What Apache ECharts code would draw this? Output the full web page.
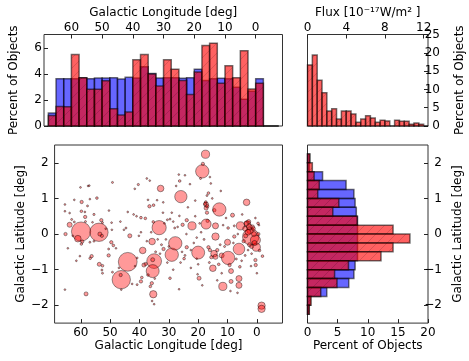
<!DOCTYPE html>
<html><head><meta charset="utf-8">
<script src="https://cdn.jsdelivr.net/npm/echarts@6/dist/echarts.min.js"></script>
<style>html,body{margin:0;padding:0;background:#fff}#c{width:469px;height:361px}</style>
</head><body><div id="c"></div>
<script>
// ---------- DATA ----------
// Longitude histogram: bins span [start-2.5, start]
const lonBinStart = [67.5,65,62.5,60,57.5,55,52.5,50,47.5,45,42.5,40,37.5,35,32.5,30,27.5,25,22.5,20,17.5,15,12.5,10,7.5,5,2.5,0,-2.5,-5];
const lonBinWidth = 2.5;
const lonRed  = [0.8,1.5,1.48,5.5,3.72,2.83,2.83,3.48,1.33,0.84,1.07,5.1,5.5,4.0,3.08,5.1,4.38,3.5,2.42,4.16,6.2,6.38,3.29,4.64,3.72,5.8,2.85,3.3,0,0];
const lonBlue = [1.0,3.65,3.65,3.65,3.72,3.65,3.7,3.7,3.72,3.62,3.75,3.7,4.57,4.05,3.7,3.72,3.72,3.68,3.72,4.38,3.5,3.65,3.68,3.65,2.98,2.07,2.67,3.65,0,0];

// Latitude histogram: bins span [top-0.25, top]
const latBinTop = [2.25,2.0,1.75,1.5,1.25,1.0,0.75,0.5,0.25,0,-0.25,-0.5,-0.75,-1.0,-1.25,-1.5,-1.75,-2.0];
const latBinWidth = 0.25;
const latRed  = [0.4,0.8,1.1,1.95,1.7,5.2,4.2,8.25,14.2,17.0,14.2,12.2,6.8,4.5,4.9,2.2,0.6,0.3];
const latBlue = [0.35,0.3,2.5,6.4,7.7,7.9,8.1,8.3,8.3,8.3,8.3,8.3,7.9,7.7,6.85,3.2,0.45,0.25];

// Flux histogram: bins span [start, start+0.5]
const fluxBinStart = [0,0.5,1,1.5,2,2.5,3,3.5,4,4.5,5,5.5,6,6.5,7,7.5,8,8.5,9,9.5,10,10.5,11,11.5,12];
const fluxBinWidth = 0.5;
const fluxPct = [16.7,19.4,12.5,9.1,4.1,4.7,1.9,4.1,4.1,3.3,1.0,1.9,2.8,2.2,1.0,1.6,1.4,0,1.6,1.3,1.3,0.5,0.8,0.5,0];

// Scatter of objects: longitude, latitude, flux
const srcLon = [65.4,62.2,59.7,56.9,54.5,57.7,65.4,63.8,59.8,58.6,55.5,63.1,62.2,63.8,58.5,58.4,56.0,65.2,59.9,61.0,59.5,59.8,56.9,55.5,64.4,60.3,56.3,56.8,58.2,65.4,60.1,57.1,
53.8,53.0,52.6,53.5,52.8,49.2,50.4,49.5,49.4,49.6,48.9,50.5,50.5,53.7,52.6,52.8,52.6,49.2,46.2,46.4,46.2,44.0,43.3,44.6,45.3,
37.5,40.4,41.6,32.8,37.1,36.6,35.2,31.9,39.5,38.0,35.3,30.5,33.3,35.7,38.9,35.0,35.5,35.3,38.5,37.9,40.8,39.2,39.5,40.8,36.3,35.8,37.1,35.7,35.0,34.8,31.8,32.5,36.0,34.5,35.5,
29.0,27.8,29.6,28.0,29.6,26.6,26.3,25.9,21.0,26.4,23.9,25.3,22.1,23.9,24.8,24.5,22.5,20.5,20.0,20.0,19.7,20.2,18.6,17.5,18.4,18.6,19.2,16.0,15.7,16.5,17.0,12.3,17.3,17.3,17.0,16.8,17.3,14.5,12.8,14.1,14.1,16.5,16.0,14.6,14.1,12.0,15.0,11.6,16.2,18.0,19.0,21.0,
9.8,10.0,8.8,9.3,8.8,6.1,6.1,6.6,5.8,6.1,3.5,8.3,9.8,7.7,5.6,3.2,2.3,2.1,0.5,0.2,0.4,0.5,-1.9,-0.9,-0.4,-1.6,-1.6,7.7,4.0,3.0,1.5,4.5,2.5,1.0,-0.5,11.0,12.5,7.0,4.0,1.8,10.5,5.0,0.5,-0.7,12.0,9.0,3.0,
42.0,41.0,39.5,37.5,33.0,31.0,30.0,27.0,26.0,24.0,31.5,29.0,34.0,48.0,42.5,28.5,22.5,23.5,27.5,22.8,
3.5,2.8,1.2,0.8,1.8,3.8,2.6,17.6,16.9,17.4,13.5,15.5,13.0,
44.0,46.5,47.0,51.5,61.5,62.7,57.5,40.2,41.5,33.8,28.5,25.5,21.5,19.5,15.2,11.5,8.0,6.5,5.2,2.0,0.0,13.5,24.5,36.5,32.0,30.5,26.5,20.5];
const srcLat = [0.83,0.96,0.90,0.98,1.01,0.79,0.64,0.59,0.64,0.62,0.55,0.41,0.34,0.26,0.48,0.35,0.33,0.00,0.07,-0.13,-0.21,-0.28,-0.23,-0.20,-0.40,-0.62,-0.62,-0.68,-1.68,-1.56,1.31,1.36,
0.05,0.39,0.32,0.00,-0.05,1.45,0.66,0.32,0.12,-0.23,-0.32,-0.42,-0.60,-0.85,-0.89,-1.01,-1.10,-1.07,-1.28,-1.15,-1.56,-0.78,-0.05,0.17,0.12,
1.56,1.39,1.27,1.28,0.96,0.78,0.81,0.89,0.46,0.44,0.34,0.40,0.18,-0.21,-0.46,-0.76,-1.04,-1.69,-0.87,-0.84,-0.67,-1.22,-1.33,-1.42,-1.47,-1.38,-1.15,-1.88,-1.97,-1.25,-0.42,-0.30,0.05,-0.50,-0.72,
-0.58,-0.26,0.42,0.17,-1.24,1.67,1.49,1.05,0.94,0.51,0.39,0.26,0.23,-0.37,-0.69,-0.60,-0.45,-0.69,-0.52,-0.85,-1.24,-1.13,-1.44,2.24,1.97,1.76,1.56,1.60,1.42,1.15,1.08,1.21,0.83,0.73,0.60,0.37,0.28,0.67,0.69,0.23,-0.07,-0.37,-0.45,-0.55,-0.64,-0.60,-0.96,-1.47,-0.80,-0.15,0.05,0.50,
-0.67,-0.23,-1.04,-0.87,-1.33,-1.25,-1.44,-1.65,-0.92,-0.42,0.89,0.53,0.17,0.23,0.23,0.28,0.10,-0.08,-0.17,-0.37,-0.87,-0.73,-0.62,-0.46,0.30,-2.01,-2.10,-0.07,0.15,0.05,0.20,-0.20,-0.30,0.00,0.00,-0.35,-0.30,-0.70,-0.60,-0.55,0.45,0.55,0.45,0.25,-1.10,-1.60,-0.45,
0.55,0.50,0.05,-0.20,-0.55,-0.15,-0.35,0.20,-0.80,0.00,0.30,0.60,0.95,-0.40,-1.40,-1.00,-0.95,0.75,1.35,1.40,
0.30,0.35,0.15,-0.25,-0.35,-0.05,0.20,0.85,0.78,0.90,-0.45,-0.65,-0.85,
0.62,0.35,-0.95,0.15,-0.75,-0.05,1.35,-0.05,-0.90,-0.15,0.35,-0.50,-0.25,0.30,1.00,0.25,-0.25,0.00,-0.75,-0.90,-1.10,-1.30,1.65,1.50,0.60,-0.80,-1.55,-0.10];
const srcFlux = [0.05,0.05,0.33,0.05,0.21,0.12,0.05,0.05,0.21,0.1,0.15,0.12,0.12,0.74,0.33,0.12,0.05,0.33,11.0,1.3,0.33,0.2,0.12,0.12,0.05,0.05,0.33,0.2,0.48,0.05,0.05,0.05,
10.0,0.33,0.12,0.48,0.3,0.12,0.05,0.05,0.05,0.33,0.21,0.12,0.33,0.48,0.21,0.12,0.12,0.12,10.0,0.33,0.05,10.5,0.5,0.12,0.05,
0.05,0.15,0.1,1.3,0.05,0.33,0.21,0.05,0.21,0.21,0.21,0.12,6.0,1.3,1.3,6.5,5.0,1.6,0.48,0.33,0.12,0.21,0.33,0.12,0.21,0.33,0.21,0.05,0.05,0.1,0.33,0.12,0.1,0.12,0.48,
5.3,5.3,0.12,0.12,0.21,0.05,0.21,4.5,0.05,0.05,0.33,0.33,2.0,0.33,0.21,0.12,0.1,0.1,5.0,0.1,0.48,0.05,0.05,2.0,0.33,5.3,0.12,0.05,0.05,0.21,0.12,0.05,0.74,0.5,0.33,0.33,3.0,0.33,5.3,1.1,1.6,0.33,0.33,1.3,0.74,0.74,1.3,2.0,0.12,0.12,0.1,0.05,
5.3,1.1,0.74,0.33,0.48,1.1,1.1,0.05,0.21,4.0,1.3,0.48,0.21,0.12,2.0,1.3,1.3,8.0,3.0,2.0,0.33,0.33,0.21,0.21,0.21,1.6,1.6,0.33,0.74,1.0,0.5,0.33,0.5,0.74,0.33,0.12,0.12,0.12,0.12,0.1,0.05,0.05,0.05,0.05,0.05,0.05,0.1,
0.05,0.05,0.05,0.05,0.05,0.1,0.1,0.05,0.05,0.05,0.05,0.05,0.05,0.05,0.05,0.05,0.05,0.05,0.05,0.05,
0.74,0.5,0.48,0.74,0.48,0.5,1.0,0.33,0.33,0.21,0.33,0.33,0.21,
0.05,0.05,0.05,0.05,0.05,0.05,0.05,0.05,0.05,0.05,0.05,0.05,0.05,0.05,0.05,0.05,0.05,0.05,0.05,0.05,0.05,0.05,0.05,0.05,0.05,0.05,0.05,0.05];

// Tick labels
const lonTicks = [60,50,40,30,20,10,0];
const pctTicksTop = [0,2,4,6];
const fluxTicks = [0,4,8,12];
const fluxPctTicks = [0,5,10,15,20,25];
const latTicks = [-2,-1,0,1,2];
const latPctTicks = [0,5,10,15,20];

// ---------- RENDER ----------
const FONT = 'DejaVu Sans';
const txt = {color:'#000', fontSize:12, fontFamily:FONT};
const minus = v => String(v).replace('-', '\u2212');

function hatch(color) {
  const s = 10;
  const c = document.createElement('canvas'); c.width = s; c.height = s;
  const g = c.getContext('2d');
  g.fillStyle = color; g.fillRect(0,0,s,s);
  g.strokeStyle = 'rgba(0,0,0,0.14)'; g.lineWidth = 1;
  g.beginPath();
  g.moveTo(0,s); g.lineTo(s,0);
  g.moveTo(-s/2,s/2); g.lineTo(s/2,-s/2);
  g.moveTo(s/2,s*1.5); g.lineTo(s*1.5,s/2);
  g.stroke();
  return {type:'pattern', image:c, repeat:'repeat'};
}
const RED = hatch('rgba(255,0,0,0.62)');
const BLUE = 'rgba(0,0,255,0.6)';
const EDGE = 'rgba(0,0,0,0.55)';

function axis(idx, pos, min, max, ticks, o) {
  o = o || {};
  return {
    type:'value', gridIndex:idx, position:pos, min:min, max:max, inverse: !!o.inverse,
    axisLine:{show:false, onZero:false}, splitLine:{show:false},
    axisTick:{show:true, inside:true, length:4, lineStyle:{color:'#222', width:1}, customValues:ticks},
    axisLabel:Object.assign({}, txt, {formatter:minus, customValues:ticks, margin:o.margin||3, align:o.align}),
    name:o.name || '', nameLocation:'middle', nameGap:o.nameGap||20, nameRotate:o.nameRotate,
    nameTextStyle:txt
  };
}

function vHist(idx, starts, width, vals, fill, dir) {
  return {
    type:'custom', xAxisIndex:idx, yAxisIndex:idx, clip:false,
    dimensions:['a','b','v'], encode:{x:[0,1], y:2},
    data: starts.map((s,i)=>[s, s + dir*width, vals[i]]),
    renderItem:(p, api)=>{
      const p1 = api.coord([api.value(0), api.value(2)]);
      const p2 = api.coord([api.value(1), 0]);
      return {type:'rect', shape:{x:Math.min(p1[0],p2[0]), y:Math.min(p1[1],p2[1]), width:Math.abs(p2[0]-p1[0]), height:Math.abs(p2[1]-p1[1])},
        style:{fill:fill, stroke:EDGE, lineWidth:1.5}};
    }
  };
}
function hHist(idx, tops, width, vals, fill) {
  return {
    type:'custom', xAxisIndex:idx, yAxisIndex:idx, clip:false,
    dimensions:['v','a','b'], encode:{x:0, y:[1,2]},
    data: tops.map((t,i)=>[vals[i], t, t - width]),
    renderItem:(p, api)=>{
      const p1 = api.coord([api.value(0), api.value(1)]);
      const p2 = api.coord([0, api.value(2)]);
      return {type:'rect', shape:{x:Math.min(p1[0],p2[0]), y:Math.min(p1[1],p2[1]), width:Math.abs(p2[0]-p1[0]), height:Math.abs(p2[1]-p1[1])},
        style:{fill:fill, stroke:EDGE, lineWidth:1.5}};
    }
  };
}

const LON_MIN = -8.73, LON_MAX = 68.92;
const gridStyle = {show:true, borderColor:'#333', borderWidth:1, backgroundColor:'transparent'};
const chart = echarts.init(document.getElementById('c'), null, {renderer:'canvas'});
chart.setOption({
  animation:false,
  backgroundColor:'#fff',
  grid:[
    Object.assign({left:40.5, top:34.5, width:242, height:91.5}, gridStyle),
    Object.assign({left:307.5, top:34.5, width:120.5, height:91.5}, gridStyle),
    Object.assign({left:40.5, top:145, width:242, height:181.5}, gridStyle),
    Object.assign({left:307.5, top:145, width:120.5, height:181.5}, gridStyle)
  ],
  xAxis:[
    axis(0,'top',LON_MIN,LON_MAX,lonTicks,{inverse:true, margin:1, name:'Galactic Longitude [deg]', nameGap:16}),
    axis(1,'top',0,12.45,fluxTicks,{margin:1, name:'Flux [10\u207B\u00B9\u2077W/m\u00B2 ]', nameGap:16}),
    axis(2,'bottom',LON_MIN,LON_MAX,lonTicks,{inverse:true, margin:4, name:'Galactic Longitude [deg]', nameGap:15}),
    axis(3,'bottom',0,20,latPctTicks,{margin:4, name:'Percent of Objects', nameGap:15})
  ],
  yAxis:[
    axis(0,'left',0,7.05,pctTicksTop,{margin:2, name:'Percent of Objects', nameGap:24, nameRotate:90}),
    axis(1,'right',0,25,fluxPctTicks,{margin:12, align:'right', name:'Percent of Objects', nameGap:26, nameRotate:90}),
    axis(2,'left',-2.5,2.5,latTicks,{margin:6, name:'Galactic Latitude [deg]', nameGap:23, nameRotate:90}),
    axis(3,'right',-2.5,2.5,latTicks,{margin:14, align:'right', name:'Galactic Latitude [deg]', nameGap:24, nameRotate:90})
  ],
  series:[
    vHist(0, lonBinStart, lonBinWidth, lonBlue, BLUE, -1),
    vHist(0, lonBinStart, lonBinWidth, lonRed, RED, -1),
    vHist(1, fluxBinStart, fluxBinWidth, fluxPct, RED, 1),
    {
      type:'scatter', xAxisIndex:2, yAxisIndex:2, clip:true,
      data: srcLon.map((x,i)=>[x, srcLat[i], srcFlux[i]]),
      symbolSize: v => Math.max(1.8, 5.8*Math.sqrt(v[2])),
      itemStyle:{color:'rgba(255,0,0,0.4)', borderColor:'rgba(0,0,0,0.5)', borderWidth:0.8, opacity:1}
    },
    hHist(3, latBinTop, latBinWidth, latBlue, BLUE),
    hHist(3, latBinTop, latBinWidth, latRed, RED)
  ]
});
</script></body></html>
